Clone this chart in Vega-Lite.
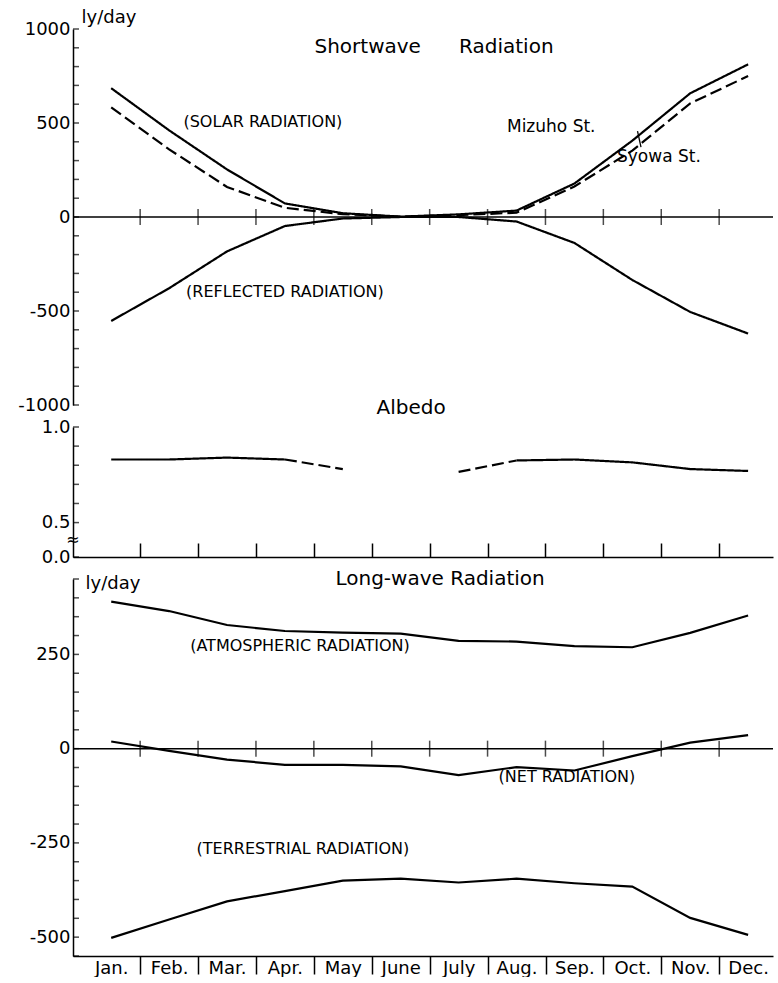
{
  "$schema": "https://vega.github.io/schema/vega-lite/v6.json",
  "background": "white",
  "padding": {"left": 17, "top": 8, "right": 6, "bottom": 0},
  "bounds": "flush",
  "spacing": 22,
  "config": {
    "view": {"stroke": null},
    "font": "DejaVu Sans",
    "axis": {
      "grid": false, "domainColor": "black", "domainWidth": 1.5,
      "tickColor": "black", "tickWidth": 1.5, "labelColor": "black",
      "labelFont": "DejaVu Sans", "labelFontSize": 18, "labelOverlap": false,
      "labelFlush": false, "titleColor": "black", "titleFont": "DejaVu Sans",
      "titleFontWeight": "normal", "titleFontSize": 18
    },
    "text": {"font": "DejaVu Sans", "color": "black"}
  },
  "datasets": {
    "sw": [
      {"m": 1, "v": 685, "s": "Mizuho St."}, {"m": 2, "v": 461, "s": "Mizuho St."}, {"m": 3, "v": 253, "s": "Mizuho St."},
      {"m": 4, "v": 72, "s": "Mizuho St."}, {"m": 5, "v": 20, "s": "Mizuho St."}, {"m": 6, "v": 2, "s": "Mizuho St."},
      {"m": 7, "v": 14, "s": "Mizuho St."}, {"m": 8, "v": 34, "s": "Mizuho St."}, {"m": 9, "v": 178, "s": "Mizuho St."},
      {"m": 10, "v": 406, "s": "Mizuho St."}, {"m": 11, "v": 658, "s": "Mizuho St."}, {"m": 12, "v": 812, "s": "Mizuho St."},
      {"m": 1, "v": 583, "s": "Syowa St."}, {"m": 2, "v": 360, "s": "Syowa St."}, {"m": 3, "v": 160, "s": "Syowa St."},
      {"m": 4, "v": 49, "s": "Syowa St."}, {"m": 5, "v": 15, "s": "Syowa St."}, {"m": 6, "v": 2, "s": "Syowa St."},
      {"m": 7, "v": 10, "s": "Syowa St."}, {"m": 8, "v": 23, "s": "Syowa St."}, {"m": 9, "v": 162, "s": "Syowa St."},
      {"m": 10, "v": 353, "s": "Syowa St."}, {"m": 11, "v": 604, "s": "Syowa St."}, {"m": 12, "v": 750, "s": "Syowa St."},
      {"m": 1, "v": -553, "s": "Reflected"}, {"m": 2, "v": -379, "s": "Reflected"}, {"m": 3, "v": -183, "s": "Reflected"},
      {"m": 4, "v": -48, "s": "Reflected"}, {"m": 5, "v": -8, "s": "Reflected"}, {"m": 6, "v": 0, "s": "Reflected"},
      {"m": 7, "v": 0, "s": "Reflected"}, {"m": 8, "v": -24, "s": "Reflected"}, {"m": 9, "v": -138, "s": "Reflected"},
      {"m": 10, "v": -335, "s": "Reflected"}, {"m": 11, "v": -505, "s": "Reflected"}, {"m": 12, "v": -620, "s": "Reflected"}
    ],
    "alb": [
      {"m": 1, "v": 0.83, "seg": "s1", "style": "solid"}, {"m": 2, "v": 0.83, "seg": "s1", "style": "solid"},
      {"m": 3, "v": 0.84, "seg": "s1", "style": "solid"}, {"m": 4, "v": 0.83, "seg": "s1", "style": "solid"},
      {"m": 4, "v": 0.83, "seg": "d1", "style": "dashed"}, {"m": 5, "v": 0.78, "seg": "d1", "style": "dashed"},
      {"m": 7, "v": 0.765, "seg": "d2", "style": "dashed"}, {"m": 8, "v": 0.825, "seg": "d2", "style": "dashed"},
      {"m": 8, "v": 0.825, "seg": "s2", "style": "solid"}, {"m": 9, "v": 0.83, "seg": "s2", "style": "solid"},
      {"m": 10, "v": 0.815, "seg": "s2", "style": "solid"}, {"m": 11, "v": 0.78, "seg": "s2", "style": "solid"},
      {"m": 12, "v": 0.77, "seg": "s2", "style": "solid"}
    ],
    "lw": [
      {"m": 1, "v": 390, "s": "atm"}, {"m": 2, "v": 365, "s": "atm"}, {"m": 3, "v": 328, "s": "atm"},
      {"m": 4, "v": 312, "s": "atm"}, {"m": 5, "v": 308, "s": "atm"}, {"m": 6, "v": 305, "s": "atm"},
      {"m": 7, "v": 286, "s": "atm"}, {"m": 8, "v": 284, "s": "atm"}, {"m": 9, "v": 272, "s": "atm"},
      {"m": 10, "v": 269, "s": "atm"}, {"m": 11, "v": 307, "s": "atm"}, {"m": 12, "v": 353, "s": "atm"},
      {"m": 1, "v": 19, "s": "net"}, {"m": 2, "v": -6, "s": "net"}, {"m": 3, "v": -29, "s": "net"},
      {"m": 4, "v": -43, "s": "net"}, {"m": 5, "v": -43, "s": "net"}, {"m": 6, "v": -47, "s": "net"},
      {"m": 7, "v": -70, "s": "net"}, {"m": 8, "v": -49, "s": "net"}, {"m": 9, "v": -58, "s": "net"},
      {"m": 10, "v": -20, "s": "net"}, {"m": 11, "v": 16, "s": "net"}, {"m": 12, "v": 36, "s": "net"},
      {"m": 1, "v": -502, "s": "terr"}, {"m": 2, "v": -453, "s": "terr"}, {"m": 3, "v": -405, "s": "terr"},
      {"m": 4, "v": -378, "s": "terr"}, {"m": 5, "v": -350, "s": "terr"}, {"m": 6, "v": -345, "s": "terr"},
      {"m": 7, "v": -355, "s": "terr"}, {"m": 8, "v": -345, "s": "terr"}, {"m": 9, "v": -357, "s": "terr"},
      {"m": 10, "v": -366, "s": "terr"}, {"m": 11, "v": -449, "s": "terr"}, {"m": 12, "v": -494, "s": "terr"}
    ],
    "bounds": [
      {"b": 1.5}, {"b": 2.5}, {"b": 3.5}, {"b": 4.5}, {"b": 5.5}, {"b": 6.5},
      {"b": 7.5}, {"b": 8.5}, {"b": 9.5}, {"b": 10.5}, {"b": 11.5}
    ],
    "yt1": [
      {"t": -1000}, {"t": -900}, {"t": -800}, {"t": -700}, {"t": -600}, {"t": -500}, {"t": -400},
      {"t": -300}, {"t": -200}, {"t": -100}, {"t": 0}, {"t": 100}, {"t": 200}, {"t": 300},
      {"t": 400}, {"t": 500}, {"t": 600}, {"t": 700}, {"t": 800}, {"t": 900}, {"t": 1000}
    ],
    "yt2": [{"t": 0.32}, {"t": 0.5}, {"t": 0.6}, {"t": 0.7}, {"t": 0.8}, {"t": 0.9}, {"t": 1.0}],
    "yt3": [
      {"t": -550}, {"t": -500}, {"t": -450}, {"t": -400}, {"t": -350}, {"t": -300}, {"t": -250},
      {"t": -200}, {"t": -150}, {"t": -100}, {"t": -50}, {"t": 0}, {"t": 50}, {"t": 100},
      {"t": 150}, {"t": 200}, {"t": 250}, {"t": 300}, {"t": 350}, {"t": 400}, {"t": 450}
    ],
    "notes1": [
      {"m": 6.575, "v": 904, "label": "Shortwave\u00a0\u00a0\u00a0\u00a0\u00a0\u00a0Radiation", "kind": "title"},
      {"m": 3.62, "v": 505, "label": "(SOLAR RADIATION)", "kind": "note"},
      {"m": 8.6, "v": 479, "label": "Mizuho St.", "kind": "station"},
      {"m": 10.46, "v": 319, "label": "Syowa St.", "kind": "station"},
      {"m": 4.0, "v": -399, "label": "(REFLECTED RADIATION)", "kind": "note"}
    ],
    "leader": [{"m": 10.09, "v": 457, "m2": 10.15, "v2": 372}],
    "notes2": [
      {"m": 6.18, "v": 1.1, "label": "Albedo", "kind": "title"},
      {"m": 0.34, "v": 0.41, "label": "≈", "kind": "note"}
    ],
    "notes3": [
      {"m": 6.68, "v": 450, "label": "Long-wave Radiation", "kind": "title"},
      {"m": 4.26, "v": 272, "label": "(ATMOSPHERIC RADIATION)", "kind": "note"},
      {"m": 8.87, "v": -75, "label": "(NET RADIATION)", "kind": "note"},
      {"m": 4.31, "v": -266, "label": "(TERRESTRIAL RADIATION)", "kind": "note"}
    ]
  },
  "vconcat": [
    {
      "width": 700,
      "height": 376,
      "layer": [
        {
          "data": {"values": [{}]},
          "mark": {"type": "rule", "color": "black", "strokeWidth": 1.5},
          "encoding": {
            "y": {"datum": 0, "type": "quantitative", "scale": {"domain": [-1000, 1000], "nice": false, "zero": false}}
          }
        },
        {
          "data": {"name": "bounds"},
          "mark": {"type": "tick", "orient": "vertical", "size": 16, "thickness": 1.5, "color": "black"},
          "encoding": {
            "x": {"field": "b", "type": "quantitative", "scale": {"domain": [0.34, 12.43], "nice": false, "zero": false}, "axis": null},
            "y": {"datum": 0, "type": "quantitative", "scale": {"domain": [-1000, 1000], "nice": false, "zero": false}}
          }
        },
        {
          "data": {"name": "yt1"},
          "mark": {"type": "tick", "orient": "horizontal", "size": 6, "thickness": 1.5, "xOffset": 3, "color": "black"},
          "encoding": {
            "x": {"datum": 0.34, "type": "quantitative", "scale": {"domain": [0.34, 12.43], "nice": false, "zero": false}, "axis": null},
            "y": {"field": "t", "type": "quantitative", "scale": {"domain": [-1000, 1000], "nice": false, "zero": false}}
          }
        },
        {
          "data": {"name": "sw"},
          "mark": {"type": "line", "color": "black", "strokeWidth": 2.2},
          "encoding": {
            "x": {"field": "m", "type": "quantitative", "scale": {"domain": [0.34, 12.43], "nice": false, "zero": false}, "axis": null},
            "y": {
              "field": "v", "type": "quantitative",
              "scale": {"domain": [-1000, 1000], "nice": false, "zero": false},
              "axis": {
                "values": [-1000, -500, 0, 500, 1000],
                "labelExpr": "'' + datum.value",
                "ticks": false, "labelPadding": 3,
                "title": "ly/day", "titleAngle": 0, "titleAlign": "left", "titleBaseline": "bottom",
                "titleX": 8, "titleY": -3
              }
            },
            "detail": {"field": "s", "type": "nominal"},
            "strokeDash": {"field": "s", "type": "nominal", "scale": {"domain": ["Mizuho St.", "Syowa St.", "Reflected"], "range": [[1, 0], [12, 5], [1, 0]]}, "legend": null}
          }
        },
        {
          "data": {"name": "leader"},
          "mark": {"type": "rule", "color": "black", "strokeWidth": 1.3},
          "encoding": {
            "x": {"field": "m", "type": "quantitative", "scale": {"domain": [0.34, 12.43], "nice": false, "zero": false}, "axis": null},
            "x2": {"field": "m2"},
            "y": {"field": "v", "type": "quantitative", "scale": {"domain": [-1000, 1000], "nice": false, "zero": false}},
            "y2": {"field": "v2"}
          }
        },
        {
          "data": {"name": "notes1"},
          "mark": {"type": "text", "align": "center", "baseline": "middle"},
          "encoding": {
            "x": {"field": "m", "type": "quantitative", "scale": {"domain": [0.34, 12.43], "nice": false, "zero": false}, "axis": null},
            "y": {"field": "v", "type": "quantitative", "scale": {"domain": [-1000, 1000], "nice": false, "zero": false}},
            "text": {"field": "label"},
            "size": {"field": "kind", "type": "nominal", "scale": {"type": "ordinal", "domain": ["title", "station", "note"], "range": [20, 17, 16]}, "legend": null}
          }
        }
      ]
    },
    {
      "width": 700,
      "height": 130,
      "layer": [
        {
          "data": {"name": "alb"},
          "mark": {"type": "line", "color": "black", "strokeWidth": 2.2},
          "encoding": {
            "x": {
              "field": "m", "type": "quantitative",
              "scale": {"domain": [0.34, 12.43], "nice": false, "zero": false},
              "axis": {"values": [1.5, 2.5, 3.5, 4.5, 5.5, 6.5, 7.5, 8.5, 9.5, 10.5, 11.5], "labels": false, "tickSize": -14, "title": null}
            },
            "y": {
              "field": "v", "type": "quantitative",
              "scale": {"domain": [0.32, 1.0], "nice": false, "zero": false},
              "axis": {
                "values": [0.32, 0.5, 1.0],
                "labelExpr": "datum.value < 0.4 ? '0.0' : (datum.value == 0.5 ? '0.5' : '1.0')",
                "ticks": false, "labelPadding": 3, "title": null
              }
            },
            "detail": {"field": "seg", "type": "nominal"},
            "strokeDash": {"field": "style", "type": "nominal", "scale": {"domain": ["solid", "dashed"], "range": [[1, 0], [6, 4]]}, "legend": null}
          }
        },
        {
          "data": {"name": "yt2"},
          "mark": {"type": "tick", "orient": "horizontal", "size": 6, "thickness": 1.5, "xOffset": 3, "color": "black"},
          "encoding": {
            "x": {"datum": 0.34, "type": "quantitative", "scale": {"domain": [0.34, 12.43], "nice": false, "zero": false}},
            "y": {"field": "t", "type": "quantitative", "scale": {"domain": [0.32, 1.0], "nice": false, "zero": false}}
          }
        },
        {
          "data": {"name": "notes2"},
          "mark": {"type": "text", "align": "center", "baseline": "middle"},
          "encoding": {
            "x": {"field": "m", "type": "quantitative", "scale": {"domain": [0.34, 12.43], "nice": false, "zero": false}},
            "y": {"field": "v", "type": "quantitative", "scale": {"domain": [0.32, 1.0], "nice": false, "zero": false}},
            "text": {"field": "label"},
            "size": {"field": "kind", "type": "nominal", "scale": {"type": "ordinal", "domain": ["title", "note"], "range": [20, 16]}, "legend": null}
          }
        }
      ]
    },
    {
      "width": 700,
      "height": 377,
      "layer": [
        {
          "data": {"values": [{}]},
          "mark": {"type": "rule", "color": "black", "strokeWidth": 1.5},
          "encoding": {
            "y": {"datum": 0, "type": "quantitative", "scale": {"domain": [-550, 450], "nice": false, "zero": false}}
          }
        },
        {
          "data": {"name": "bounds"},
          "mark": {"type": "tick", "orient": "vertical", "size": 16, "thickness": 1.5, "color": "black"},
          "encoding": {
            "x": {"field": "b", "type": "quantitative", "scale": {"domain": [0.34, 12.43], "nice": false, "zero": false}},
            "y": {"datum": 0, "type": "quantitative", "scale": {"domain": [-550, 450], "nice": false, "zero": false}}
          }
        },
        {
          "data": {"name": "lw"},
          "mark": {"type": "line", "color": "black", "strokeWidth": 2.2},
          "encoding": {
            "x": {
              "field": "m", "type": "quantitative",
              "scale": {"domain": [0.34, 12.43], "nice": false, "zero": false},
              "axis": {
                "values": [1, 2, 3, 4, 5, 6, 7, 8, 9, 10, 11, 12],
                "labelExpr": "['Jan.','Feb.','Mar.','Apr.','May','June','July','Aug.','Sep.','Oct.','Nov.','Dec.'][datum.value - 1]",
                "tickOffset": 29, "labelOffset": -29, "tickSize": 18, "labelPadding": -15,
                "tickColor": {"condition": {"test": "datum.value == 12", "value": "transparent"}, "value": "black"},
                "title": null
              }
            },
            "y": {
              "field": "v", "type": "quantitative",
              "scale": {"domain": [-550, 450], "nice": false, "zero": false},
              "axis": {
                "values": [-500, -250, 0, 250],
                "labelExpr": "'' + datum.value",
                "ticks": false, "labelPadding": 3,
                "title": "ly/day", "titleAngle": 0, "titleAlign": "left", "titleBaseline": "middle",
                "titleX": 12, "titleY": 4
              }
            },
            "detail": {"field": "s", "type": "nominal"}
          }
        },
        {
          "data": {"name": "yt3"},
          "mark": {"type": "tick", "orient": "horizontal", "size": 6, "thickness": 1.5, "xOffset": 3, "color": "black"},
          "encoding": {
            "x": {"datum": 0.34, "type": "quantitative", "scale": {"domain": [0.34, 12.43], "nice": false, "zero": false}},
            "y": {"field": "t", "type": "quantitative", "scale": {"domain": [-550, 450], "nice": false, "zero": false}}
          }
        },
        {
          "data": {"name": "notes3"},
          "mark": {"type": "text", "align": "center", "baseline": "middle"},
          "encoding": {
            "x": {"field": "m", "type": "quantitative", "scale": {"domain": [0.34, 12.43], "nice": false, "zero": false}},
            "y": {"field": "v", "type": "quantitative", "scale": {"domain": [-550, 450], "nice": false, "zero": false}},
            "text": {"field": "label"},
            "size": {"field": "kind", "type": "nominal", "scale": {"type": "ordinal", "domain": ["title", "note"], "range": [20, 16]}, "legend": null}
          }
        }
      ]
    }
  ]
}
